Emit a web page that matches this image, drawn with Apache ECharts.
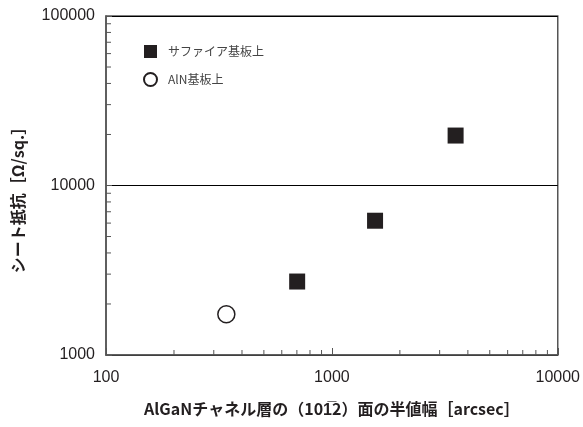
<!DOCTYPE html>
<html>
<head>
<meta charset="utf-8">
<script src="https://cdn.jsdelivr.net/npm/echarts@6/dist/echarts.min.js"></script>
<style>
  html, body { margin: 0; padding: 0; background: #fff; }
  #chart { width: 583px; height: 427px; }
</style>
</head>
<body>
<div id="chart"></div>
<script>
// FWHM of the AlGaN (10-12) rocking curve [arcsec] vs. sheet resistance [Ω/sq.]
const seriesNames = ['サファイア基板上', 'AlN基板上'];
const sapphireFwhm = [702, 1553, 3530];
const sapphireRs = [2713, 6197, 19710];
const alnFwhm = [341];
const alnRs = [1740];

// axis ranges and minor tick positions (log decades)
const xRange = [100, 10000];
const yRange = [1000, 100000];
const xMinorTicks = [200, 300, 400, 500, 600, 700, 800, 900, 2000, 3000, 4000, 5000, 6000, 7000, 8000, 9000];
const yMinorTicks = [2000, 3000, 4000, 5000, 6000, 7000, 8000, 9000, 20000, 30000, 40000, 50000, 60000, 70000, 80000, 90000];

// (10-12) plane: overline on the second "1"
const xTitle = 'AlGaNチャネル層の（10' + '1\u0305' + '2）面の半値幅［arcsec］';
const yTitle = 'シート抵抗［Ω/sq.］';

const INK = '#231f20';
const AXIS = '#555';
const numFont = '"Liberation Sans", Arial, sans-serif';
const jpFont = '"Noto Sans CJK JP", sans-serif';

const chart = echarts.init(document.getElementById('chart'), null, { renderer: 'canvas' });

const zip = (xs, ys) => xs.map((x, i) => [x, ys[i]]);
const plain = v => String(Math.round(v));

chart.setOption({
  animation: false,
  backgroundColor: '#fff',
  grid: {
    left: 106, right: 24, top: 16, bottom: 72,
    show: true, borderColor: AXIS, borderWidth: 1.5
  },
  legend: {
    data: seriesNames,
    orient: 'vertical',
    left: 138, top: 40,
    itemWidth: 13, itemHeight: 13, itemGap: 14,
    textStyle: { fontFamily: jpFont, fontSize: 12, color: '#444', padding: [0, 0, 0, 6] }
  },
  xAxis: {
    type: 'log', logBase: 10, min: xRange[0], max: xRange[1],
    name: xTitle, nameLocation: 'middle', nameGap: 46,
    nameTextStyle: { fontFamily: jpFont, fontSize: 16, color: INK, fontWeight: 'bold' },
    axisLine: { show: true, lineStyle: { color: AXIS, width: 1.5 } },
    axisTick: { show: true, inside: true, length: 7, lineStyle: { color: AXIS, width: 1 } },
    axisLabel: { fontFamily: numFont, fontSize: 16, color: INK, margin: 15, formatter: plain },
    splitLine: { show: false }
  },
  yAxis: {
    type: 'log', logBase: 10, min: yRange[0], max: yRange[1],
    axisLine: { show: true, lineStyle: { color: AXIS, width: 1.5 } },
    axisTick: { show: true, inside: true, length: 6, lineStyle: { color: AXIS, width: 1 } },
    axisLabel: { fontFamily: numFont, fontSize: 16, color: INK, margin: 11, formatter: plain },
    splitLine: { show: true, lineStyle: { color: '#000', width: 1 } }
  },
  graphic: [{
    type: 'text',
    rotation: Math.PI / 2,
    x: 18, y: 196,
    style: { text: yTitle, fontFamily: jpFont, fontSize: 16, fill: INK, fontWeight: 'bold',
             textAlign: 'center', textVerticalAlign: 'middle' }
  }],
  series: [
    {
      name: seriesNames[0], type: 'scatter',
      data: zip(sapphireFwhm, sapphireRs),
      symbol: 'rect', symbolSize: 16,
      itemStyle: { color: INK, opacity: 1 }
    },
    {
      name: seriesNames[1], type: 'scatter',
      data: zip(alnFwhm, alnRs),
      symbol: 'circle', symbolSize: 17,
      itemStyle: { color: '#fff', borderColor: INK, borderWidth: 1.5, opacity: 1 }
    },
    {
      // minor ticks along the bottom axis
      type: 'custom', silent: true, clip: false,
      data: xMinorTicks.map(v => [v, yRange[0]]),
      renderItem: (params, api) => {
        const p = api.coord([api.value(0), api.value(1)]);
        return { type: 'line', shape: { x1: p[0], y1: p[1], x2: p[0], y2: p[1] - 5 },
                 style: { stroke: AXIS, lineWidth: 1 } };
      }
    },
    {
      // minor ticks along the left axis
      type: 'custom', silent: true, clip: false,
      data: yMinorTicks.map(v => [xRange[0], v]),
      renderItem: (params, api) => {
        const p = api.coord([api.value(0), api.value(1)]);
        return { type: 'line', shape: { x1: p[0], y1: p[1], x2: p[0] + 5, y2: p[1] },
                 style: { stroke: AXIS, lineWidth: 1 } };
      }
    }
  ]
});
</script>
</body>
</html>
